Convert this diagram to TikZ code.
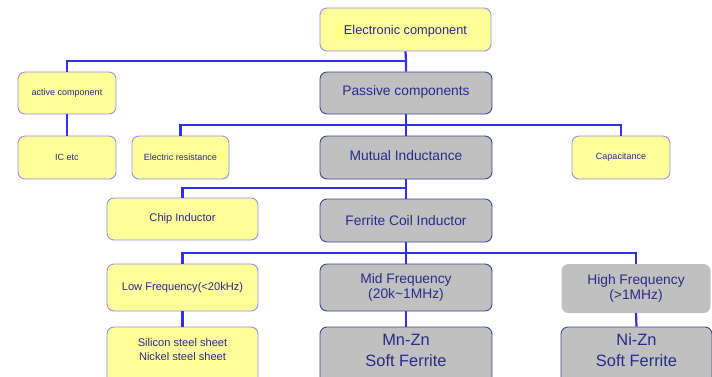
\documentclass[tikz,border=0pt]{standalone}
\usepackage{fontspec}
\setmainfont{Liberation Sans}
\definecolor{boxyellow}{HTML}{FFFF99}
\definecolor{boxgray}{HTML}{C0C0C0}
\definecolor{yedge}{HTML}{9090F0}
\definecolor{gedge}{HTML}{454595}
\definecolor{txt}{HTML}{2A2A8A}
\definecolor{wire}{HTML}{3030F2}
\begin{document}
\begin{tikzpicture}[x=1pt,y=-1pt,
  base/.style={rectangle,rounded corners=7pt,align=center,text=txt,inner sep=0pt},
  ybox/.style={base,fill=boxyellow,draw=yedge,line width=0.9pt},
  gbox/.style={base,fill=boxgray,draw=gedge,line width=0.9pt},
  hbox/.style={base,fill=boxgray,draw=none},
  plain/.style={align=center,text=txt,inner sep=0pt},
  conn/.style={draw=wire,line width=2.2pt},
  fsmall/.style={font=\fontsize{9}{11}\selectfont},
  fmid/.style={font=\fontsize{11.1}{13.3}\selectfont},
  fbig/.style={font=\fontsize{13.8}{15.5}\selectfont},
  fhuge/.style={font=\fontsize{16.4}{21}\selectfont}]
\useasboundingbox (0,0) rectangle (712,376);
\clip (0,0) rectangle (712,376);

% row 1
\node[ybox,minimum width=171,minimum height=43,font=\fontsize{12.8}{15}\selectfont,text height=13.5pt,text depth=2.7pt] (elec) at (405.5,29.5) {Electronic component};
% row 2
\node[ybox,fsmall,minimum width=98,minimum height=42] (active) at (67,93) {active component};
\node[gbox,fbig,minimum width=172,minimum height=42,text height=10pt,text depth=6pt] (passive) at (406,93) {Passive components};
% row 3
\node[ybox,fsmall,minimum width=98,minimum height=43] (ic) at (67,157.5) {IC etc};
\node[ybox,fsmall,minimum width=97,minimum height=43] (resist) at (180.5,157.5) {Electric resistance};
\node[gbox,fbig,minimum width=172,minimum height=43,text height=10pt,text depth=5pt] (mutual) at (406,157.5) {Mutual Inductance};
\node[ybox,fsmall,minimum width=98,minimum height=43] (capac) at (621,157.5) {Capacitance};
% row 4
\node[ybox,fmid,minimum width=151,minimum height=42] (chip) at (182.5,219) {Chip Inductor};
\node[gbox,fbig,minimum width=172,minimum height=43] (ferrite) at (406,220.5) {Ferrite Coil Inductor};
% row 5
\node[ybox,fmid,minimum width=151,minimum height=47] (low) at (182.5,287.5) {Low Frequency(<20kHz)};
\node[gbox,fbig,minimum width=172,minimum height=47] (mid) at (406,287.5) {Mid Frequency\\(20k\textasciitilde1MHz)};
\node[hbox,fbig,minimum width=149,minimum height=49] (high) at (636,288.5) {High Frequency\\(>1MHz)};
% row 6
\node[ybox,minimum width=151,minimum height=64] (silicon) at (182.5,359) {};
\node[plain,fmid] (silicon-t) at (182.5,349.5) {Silicon steel sheet\\Nickel steel sheet};
\node[gbox,minimum width=172,minimum height=64] (mnzn) at (406,359) {};
\node[plain,fhuge] (mnzn-t) at (406,350) {Mn-Zn\\Soft Ferrite};
\node[gbox,minimum width=151,minimum height=64] (nizn) at (636.5,359) {};
\node[plain,fhuge] (nizn-t) at (636.5,350) {Ni-Zn\\Soft Ferrite};

% junctions
\coordinate (j1) at (406,61);
\coordinate (j2) at (406,125);
\coordinate (j3) at (406,188);
\coordinate (j4) at (406,253);

% connectors
\draw[conn] (elec.south) -- (j1) -- (passive.north);
\draw[conn] (j1) -| (active.north);
\draw[conn] (active.south) -- (ic.north);
\draw[conn] (passive.south) -- (j2) -- (mutual.north);
\draw[conn] (j2) -| (resist.north);
\draw[conn] (j2) -| (capac.north);
\draw[conn] (mutual.south) -- (j3) -- (ferrite.north);
\draw[conn] (j3) -| (chip.north);
\draw[conn] (ferrite.south) -- (j4) -- (mid.north);
\draw[conn] (j4) -| (low.north);
\draw[conn] (j4) -| (high.north);
\draw[conn] (low.south) -- (silicon.north);
\draw[conn] (mid.south) -- (mnzn.north);
\draw[conn] (high.south) -- (nizn.north);
\end{tikzpicture}
\end{document}
